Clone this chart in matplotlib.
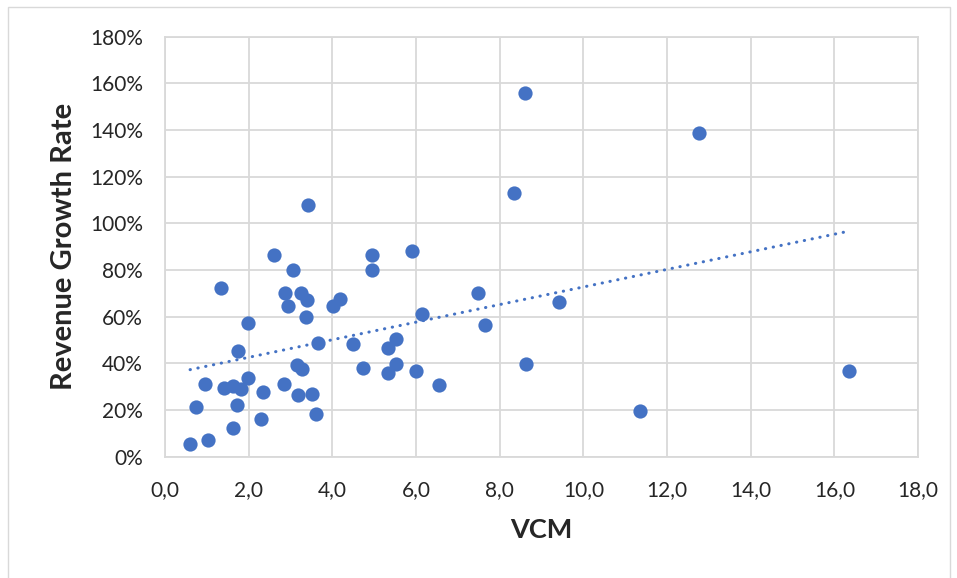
import numpy as np
import matplotlib
matplotlib.use("Agg")
import matplotlib.pyplot as plt
from matplotlib.patches import Rectangle
from matplotlib.ticker import FuncFormatter

# values
vcm = [0.60, 1.02, 0.73, 0.95, 1.63, 1.72, 1.42, 1.63, 1.81, 1.98,
       1.75, 1.98, 1.34, 2.30, 2.35, 2.85, 3.18, 3.15, 3.27, 3.52,
       3.60, 3.66, 2.95, 2.87, 3.25, 3.39, 3.38, 2.60, 3.05, 4.01,
       4.18, 4.50, 4.74, 5.34, 5.53, 5.51, 5.33, 6.01, 6.54, 6.15,
       4.96, 4.95, 5.90, 3.43, 8.60, 12.77, 8.35, 9.43, 8.63, 7.49,
       7.65, 11.35, 16.36]
growth = [5.3, 7.2, 21.3, 31.3, 12.2, 22.0, 29.3, 30.3, 29.1, 33.6,
          45.4, 57.1, 72.5, 16.3, 27.8, 31.3, 26.4, 39.3, 37.4, 27.0,
          18.4, 48.6, 64.7, 70.2, 70.2, 67.2, 59.8, 86.5, 80.1, 64.5,
          67.5, 48.3, 38.1, 46.6, 50.3, 39.6, 35.7, 36.6, 30.8, 61.2,
          86.5, 79.8, 88.1, 107.8, 155.8, 138.9, 112.9, 66.1, 39.6, 70.2,
          56.3, 19.7, 36.7]

x_ticks = np.arange(0, 18.1, 2)
y_ticks = np.arange(0, 181, 20)

blue = '#4472C4'
grid_col = '#d9d9d9'
text_col = '#262626'

plt.rcParams['font.family'] = ['Lato', 'DejaVu Sans']

fig = plt.figure(figsize=(9.57, 5.78), dpi=100)
ax = fig.add_axes([165 / 957, 1 - 456.7 / 578, (918 - 165) / 957, (456.7 - 36.7) / 578])

# outer chart border
fig.patches.append(Rectangle((8 / 957, -0.05), (950 - 8) / 957, 1.05 - 7 / 578,
                             transform=fig.transFigure, fill=False,
                             edgecolor=grid_col, linewidth=1))

ax.scatter(vcm, growth, s=105, color=blue, zorder=3, linewidths=0)

# linear trendline (Excel style, spans data range)
slope, intercept = np.polyfit(vcm, growth, 1)
tx = np.array([min(vcm), max(vcm)])
ax.plot(tx, slope * tx + intercept, color=blue, linewidth=2.2,
        linestyle=(0, (0.1, 2.5)), dash_capstyle='round', zorder=2)

ax.set_xlim(0, 18)
ax.set_ylim(0, 180)
ax.set_xticks(x_ticks)
ax.set_yticks(y_ticks)
ax.xaxis.set_major_formatter(FuncFormatter(lambda v, p: f'{v:.1f}'.replace('.', ',')))
ax.yaxis.set_major_formatter(FuncFormatter(lambda v, p: f'{v:.0f}%'))
ax.grid(True, color=grid_col, linewidth=1.3)
ax.set_axisbelow(True)
for s in ax.spines.values():
    s.set_color(grid_col)
    s.set_linewidth(1.3)
ax.tick_params(length=0, labelsize=15, colors=text_col)
ax.tick_params(axis='x', pad=17)
ax.tick_params(axis='y', pad=16)

ax.set_xlabel('VCM', fontsize=19.5, fontweight='bold', color=text_col, labelpad=13)
ax.set_ylabel('Revenue Growth Rate', fontsize=21, fontweight='bold', color=text_col, labelpad=9)

fig.savefig('out.png', dpi=100)
